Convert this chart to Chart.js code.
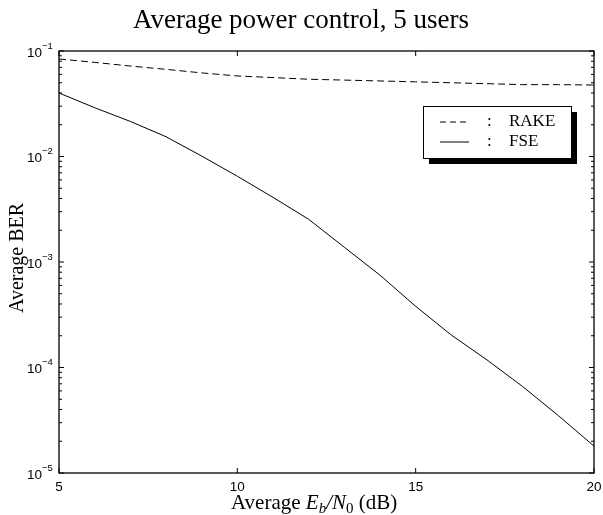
<!DOCTYPE html>
<html>
<head>
<meta charset="utf-8">
<script src="https://cdn.jsdelivr.net/npm/chart.js@4/dist/chart.umd.min.js"></script>
<style>
  html, body { margin: 0; padding: 0; background: #fff; }
  canvas { display: block; }
</style>
</head>
<body>
<canvas id="ber-chart" width="603" height="515"></canvas>
<script>
// ─────────────────────────────────────────────
//  DATA
// ─────────────────────────────────────────────
const snrDb   = [5, 6, 7, 8, 9, 10, 11, 12, 13, 14, 15, 16, 17, 18, 19, 20];
const rakeBer = [0.084, 0.078, 0.072, 0.067, 0.062, 0.058, 0.056, 0.054, 0.053, 0.052, 0.051, 0.050, 0.049, 0.048, 0.048, 0.0476];
const fseBer  = [0.040, 0.029, 0.0215, 0.0154, 0.0101, 0.0065, 0.0041, 0.00254, 0.00138, 0.00075, 0.00038, 0.000203, 0.000118, 0.000066, 0.000035, 0.000018];
const xTickValues  = [5, 10, 15, 20];
const yDecades     = [-5, -4, -3, -2, -1];
const legendLabels = ['RAKE', 'FSE'];

const SERIF = '"Liberation Serif", "Times New Roman", serif';
const SANS  = '"Liberation Sans", Arial, sans-serif';

// ─────────────────────────────────────────────
//  MATLAB-style frame, ticks, labels, legend
// ─────────────────────────────────────────────
const matlabFrame = {
  id: 'matlabFrame',
  afterDraw(chart) {
    const { ctx, chartArea: a, scales } = chart;
    const xs = scales.x, ys = scales.y;
    ctx.save();
    ctx.strokeStyle = '#000';
    ctx.fillStyle = '#000';
    ctx.lineWidth = 1.3;
    ctx.strokeRect(a.left, a.top, a.right - a.left, a.bottom - a.top);

    // x ticks (bottom + top, inward)
    ctx.lineWidth = 1;
    ctx.font = '13.5px ' + SANS;
    ctx.textAlign = 'center';
    ctx.textBaseline = 'middle';
    xTickValues.forEach(v => {
      const px = xs.getPixelForValue(v);
      ctx.beginPath();
      ctx.moveTo(px, a.bottom); ctx.lineTo(px, a.bottom - 5);
      ctx.moveTo(px, a.top);    ctx.lineTo(px, a.top + 5);
      ctx.stroke();
      ctx.fillText(String(v), px, a.bottom + 14);
    });

    // y ticks: decades + minor 2..9
    yDecades.forEach(d => {
      const py = ys.getPixelForValue(Math.pow(10, d));
      ctx.beginPath();
      ctx.moveTo(a.left, py);  ctx.lineTo(a.left + 5, py);
      ctx.moveTo(a.right, py); ctx.lineTo(a.right - 5, py);
      ctx.stroke();
      if (d < -1) {
        for (let m = 2; m <= 9; m++) {
          const pm = ys.getPixelForValue(m * Math.pow(10, d));
          ctx.beginPath();
          ctx.moveTo(a.left, pm);  ctx.lineTo(a.left + 3, pm);
          ctx.moveTo(a.right, pm); ctx.lineTo(a.right - 3, pm);
          ctx.stroke();
        }
      }
      ctx.font = '13.5px ' + SANS;
      ctx.textAlign = 'right';
      ctx.fillText('10', 42, py + 2);
      ctx.font = '9.5px ' + SANS;
      ctx.textAlign = 'left';
      ctx.fillText('\u2212' + Math.abs(d), 42, py - 5);
    });

    // title
    ctx.textAlign = 'center';
    ctx.textBaseline = 'alphabetic';
    ctx.font = '27px ' + SERIF;
    ctx.fillText('Average power control, 5 users', 301, 28);

    // y title
    ctx.save();
    ctx.translate(23, 258);
    ctx.rotate(-Math.PI / 2);
    ctx.font = '20px ' + SERIF;
    ctx.fillText('Average BER', 0, 0);
    ctx.restore();

    // x title with E_b / N_0
    const base = 509;
    const parts = [
      ['Average ', '21px ' + SERIF, 0],
      ['E', 'italic 21px ' + SERIF, 0],
      ['b', 'italic 15px ' + SERIF, 4],
      ['/N', 'italic 21px ' + SERIF, 0],
      ['0', '15px ' + SERIF, 4],
      [' (dB)', '21px ' + SERIF, 0]
    ];
    let total = 0;
    parts.forEach(p => { ctx.font = p[1]; total += ctx.measureText(p[0]).width; });
    let cx = 231;
    ctx.textAlign = 'left';
    parts.forEach(p => {
      ctx.font = p[1];
      ctx.fillText(p[0], cx, base + p[2]);
      cx += ctx.measureText(p[0]).width;
    });

    // legend box with drop shadow
    const lx = 423, ly = 106, lw = 148, lh = 52;
    ctx.fillStyle = '#000';
    ctx.fillRect(lx + 6, ly + 6, lw, lh);
    ctx.fillStyle = '#fff';
    ctx.fillRect(lx, ly, lw, lh);
    ctx.lineWidth = 1;
    ctx.strokeRect(lx + 0.5, ly + 0.5, lw, lh);
    ctx.fillStyle = '#000';
    ctx.font = '17px ' + SERIF;
    ctx.textBaseline = 'middle';
    [122, 142].forEach((yy, i) => {
      ctx.beginPath();
      ctx.setLineDash(i === 0 ? [6, 4] : []);
      ctx.moveTo(440, yy); ctx.lineTo(469, yy);
      ctx.stroke();
      ctx.setLineDash([]);
      ctx.fillText(':', 487, yy);
      ctx.fillText(legendLabels[i], 509, yy);
    });
    ctx.restore();
  }
};

const toPoints = ys => snrDb.map((x, i) => ({ x, y: ys[i] }));

new Chart(document.getElementById('ber-chart').getContext('2d'), {
  type: 'line',
  data: {
    datasets: [
      { label: legendLabels[0], data: toPoints(rakeBer), borderColor: '#000', borderWidth: 1, borderDash: [7, 4], pointRadius: 0, fill: false, tension: 0 },
      { label: legendLabels[1], data: toPoints(fseBer),  borderColor: '#000', borderWidth: 1, pointRadius: 0, fill: false, tension: 0 }
    ]
  },
  options: {
    responsive: false,
    animation: false,
    layout: { padding: { left: 59, top: 51, right: 9, bottom: 42 } },
    plugins: { legend: { display: false }, tooltip: { enabled: false } },
    scales: {
      x: { type: 'linear', min: 5, max: 20, display: false },
      y: { type: 'logarithmic', min: 1e-5, max: 1e-1, display: false }
    }
  },
  plugins: [matlabFrame]
});
</script>
</body>
</html>
